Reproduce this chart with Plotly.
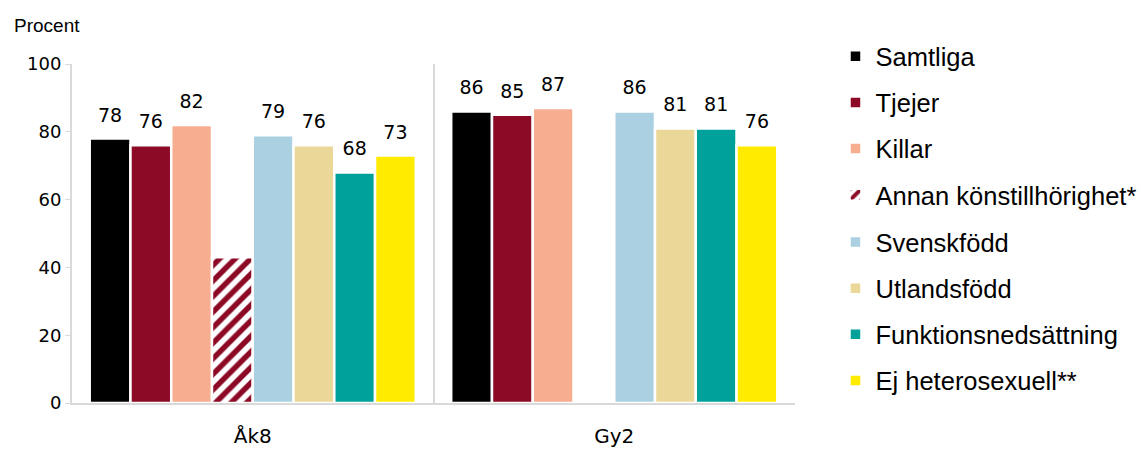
import plotly.graph_objects as go

# Årskurser (kategorier på x-axeln)
grades = ["Åk8", "Gy2"]

# Andel i procent per grupp och årskurs
samtliga = [78, 86]
tjejer = [76, 85]
killar = [82, 87]
annan_kon = [43, None]
svenskfodd = [79, 86]
utlandsfodd = [76, 81]
funktionsneds = [68, 81]
ej_hetero = [73, 76]

series = [
    ("Samtliga", samtliga, "#000000", True),
    ("Tjejer", tjejer, "#8C0A26", True),
    ("Killar", killar, "#F7AE90", True),
    ("Annan könstillhörighet*", annan_kon, "#8C0A26", False),
    ("Svenskfödd", svenskfodd, "#AAD0E1", True),
    ("Utlandsfödd", utlandsfodd, "#EBD797", True),
    ("Funktionsnedsättning", funktionsneds, "#00A19A", True),
    ("Ej heterosexuell**", ej_hetero, "#FFEB00", True),
]

GAP = 0.098

fig = go.Figure()
for i, (name, vals, color, labelled) in enumerate(series):
    hatched = name.startswith("Annan")
    marker = dict(color=color, line=dict(width=2.5, color="white"))
    if hatched:
        marker = dict(
            color="white",
            line=dict(width=2.5, color="white"),
            pattern=dict(shape="/", fgcolor=color, bgcolor="white",
                         size=11, solidity=0.5, fillmode="replace"),
        )
    fig.add_trace(go.Bar(
        x=grades, y=vals, name=name, marker=marker,
        legend="legend" if i < 4 else "legend2",
        legendgroup=f"g{i}",
        hoverinfo="x+y+name",
    ))
    # value labels, grouped the same way as the bars
    fig.add_trace(go.Scatter(
        x=grades, y=vals, mode="markers+text",
        text=[("" if (v is None or not labelled) else str(v)) for v in vals],
        textposition="top center",
        marker=dict(size=18, opacity=0),
        textfont=dict(family="DejaVu Sans", size=19, color="#000000"),
        showlegend=False, hoverinfo="skip", cliponaxis=False,
    ))

legend_style = dict(
    xanchor="left", yanchor="top", x=1.056,
    font=dict(family="Liberation Sans", size=25.5, color="#000000"),
    tracegroupgap=10, itemwidth=30, bgcolor="rgba(0,0,0,0)",
)

fig.update_layout(
    width=1141, height=449,
    margin=dict(l=72, r=346, t=64, b=46, autoexpand=False),
    paper_bgcolor="white", plot_bgcolor="white",
    barmode="group", bargap=GAP, bargroupgap=0,
    scattermode="group", scattergap=GAP,
    font=dict(family="Liberation Sans", color="#000000"),
    legend=dict(y=1.091, **legend_style),
    legend2=dict(y=0.543, **legend_style),
    annotations=[dict(
        text="Procent", xref="paper", yref="paper", x=-0.083, y=1.115,
        xanchor="left", yanchor="middle", showarrow=False,
        font=dict(family="Liberation Sans", size=19, color="#000000"),
    )],
)
fig.update_yaxes(
    range=[0, 100], dtick=20, showgrid=False,
    showline=True, linecolor="#D9D9D9", linewidth=2,
    ticks="outside", ticklen=5, tickcolor="#D9D9D9",
    tickfont=dict(family="DejaVu Sans", size=18, color="#000000"),
    zeroline=False, automargin=False,
)
fig.update_xaxes(
    showline=True, linecolor="#D9D9D9", linewidth=2,
    tickson="boundaries", showgrid=True, gridcolor="#D9D9D9", gridwidth=2,
    ticks="", ticklabelstandoff=14, automargin=False,
    tickfont=dict(family="DejaVu Sans", size=20, color="#000000"),
)

fig.write_html("out.html")
